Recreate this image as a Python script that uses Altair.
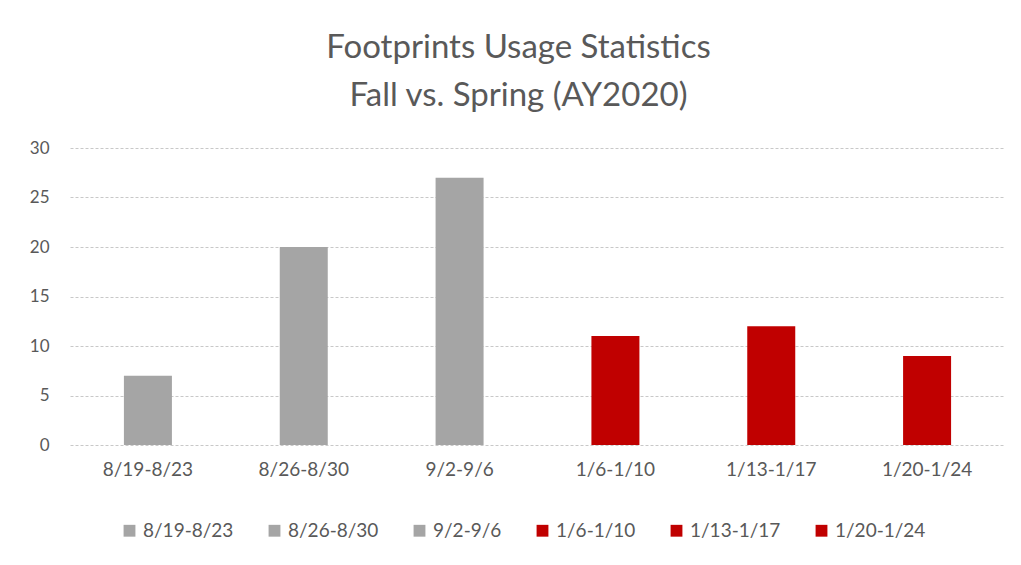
import altair as alt
import pandas as pd

categories = ["8/19-8/23", "8/26-8/30", "9/2-9/6", "1/6-1/10", "1/13-1/17", "1/20-1/24"]
values = [7, 20, 27, 11, 12, 9]
colors = ["#A5A5A5", "#A5A5A5", "#A5A5A5", "#C00000", "#C00000", "#C00000"]

df = pd.DataFrame({"week": categories, "count": values})

FONT = "Lato"
TXT = "#595959"

chart = alt.Chart(df).mark_bar(size=48).encode(
    x=alt.X("week:N", sort=categories, title=None,
            scale=alt.Scale(paddingInner=0.69, paddingOuter=0.345),
            axis=alt.Axis(labelAngle=0, ticks=False, domain=False, grid=False,
                          labelFont=FONT, labelFontSize=19, labelColor=TXT,
                          labelPadding=15)),
    y=alt.Y("count:Q", title=None,
            scale=alt.Scale(domain=[0, 30]),
            axis=alt.Axis(values=[0, 5, 10, 15, 20, 25, 30], ticks=False, domain=False,
                          labelFont=FONT, labelFontSize=17, labelColor=TXT,
                          labelPadding=21, gridColor="#C8C8C8", gridDash=[3, 2],
                          gridWidth=1)),
    color=alt.Color("week:N", sort=categories,
                    scale=alt.Scale(domain=categories, range=colors),
                    legend=alt.Legend(orient="none", direction="horizontal",
                                      legendX=50, legendY=373, title=None,
                                      symbolType="square", symbolSize=140,
                                      symbolStrokeWidth=0, labelFont=FONT,
                                      labelFontSize=19, labelColor=TXT,
                                      labelOffset=4, columnPadding=31,
                                      columns=6)),
).properties(
    width=935,
    height=297,
    title=alt.TitleParams(
        text=["Footprints Usage Statistics", "Fall vs. Spring (AY2020)"],
        font=FONT, fontSize=33, fontWeight="normal", color=TXT,
        anchor="middle", dx=-19, lineHeight=48, offset=26,
    ),
    autosize=alt.AutoSizeParams(type="none"),
    padding={"left": 62, "top": 140, "right": 8, "bottom": 110},
).configure(background="white").configure_view(stroke=None, strokeWidth=0)

chart.save("out.html", embed_options={"renderer": "svg", "actions": False})
